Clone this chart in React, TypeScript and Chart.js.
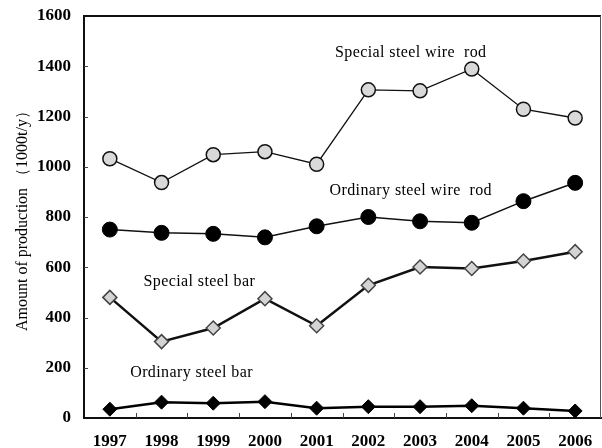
import React, { useEffect, useRef } from "react";
import { Chart, registerables } from "chart.js";

Chart.register(...registerables);

const years = ["1997", "1998", "1999", "2000", "2001", "2002", "2003", "2004", "2005", "2006"];
const specialWireRod = [1032, 937, 1048, 1060, 1010, 1306, 1302, 1389, 1229, 1194];
const ordinaryWireRod = [750, 737, 733, 719, 763, 800, 783, 777, 863, 936];
const specialBar = [480, 304, 358, 475, 367, 528, 601, 595, 625, 662];
const ordinaryBar = [35, 63, 59, 65, 39, 45, 45, 49, 39, 28];

const yTitle = "Amount of production （1000t/y）";
const labelTexts = ["Special steel wire  rod", "Ordinary steel wire  rod", "Special steel bar", "Ordinary steel bar"];
const labelX = [5.82, 5.82, 1.73, 1.58];
const labelY = [1453, 903, 541, 179];

const serif = "'Liberation Serif', 'Times New Roman', serif";

const framePlugin = {
  id: "frame",
  afterDraw(chart: any) {
    const { ctx, chartArea, scales } = chart;
    const x = scales.x;
    const y = scales.y;
    ctx.save();
    ctx.strokeStyle = "#111";
    ctx.lineWidth = 2;
    ctx.beginPath();
    ctx.moveTo(chartArea.left, chartArea.top);
    ctx.lineTo(chartArea.right, chartArea.top);
    ctx.stroke();
    ctx.strokeStyle = "#555";
    ctx.lineWidth = 1;
    ctx.beginPath();
    ctx.moveTo(chartArea.right - 0.5, chartArea.top);
    ctx.lineTo(chartArea.right - 0.5, chartArea.bottom);
    ctx.stroke();
    ctx.strokeStyle = "#444";
    ctx.lineWidth = 1;
    for (let i = 0; i < years.length - 1; i++) {
      const px = Math.round((x.getPixelForValue(i) + x.getPixelForValue(i + 1)) / 2) + 0.5;
      ctx.beginPath();
      ctx.moveTo(px, chartArea.bottom);
      ctx.lineTo(px, chartArea.bottom - 5);
      ctx.stroke();
    }
    for (let v = 200; v < 1600; v += 200) {
      const py = Math.round(y.getPixelForValue(v)) + 0.5;
      ctx.beginPath();
      ctx.moveTo(chartArea.left, py);
      ctx.lineTo(chartArea.left + 4, py);
      ctx.stroke();
    }
    ctx.fillStyle = "#000";
    ctx.font = `16px ${serif}`;
    try {
      (ctx as any).letterSpacing = "0.4px";
    } catch (e) {}
    ctx.textAlign = "center";
    ctx.textBaseline = "middle";
    for (let i = 0; i < labelTexts.length; i++) {
      ctx.fillText(labelTexts[i], x.getPixelForValue(labelX[i]), y.getPixelForValue(labelY[i]));
    }
    ctx.restore();
  },
};

export default function App() {
  const ref = useRef<HTMLCanvasElement | null>(null);
  useEffect(() => {
    document.body.style.margin = "0";
    const chart = new Chart(ref.current as HTMLCanvasElement, {
      type: "line",
      data: {
        labels: years,
        datasets: [
          {
            label: "Special steel wire rod",
            data: specialWireRod,
            borderColor: "#111",
            borderWidth: 1.3,
            pointStyle: "circle",
            pointRadius: 7,
            pointBackgroundColor: "#d9d9d9",
            pointBorderColor: "#111",
            pointBorderWidth: 1.5,
          },
          {
            label: "Ordinary steel wire rod",
            data: ordinaryWireRod,
            borderColor: "#111",
            borderWidth: 1.5,
            pointStyle: "circle",
            pointRadius: 7.5,
            pointBackgroundColor: "#000",
            pointBorderColor: "#000",
            pointBorderWidth: 1,
          },
          {
            label: "Special steel bar",
            data: specialBar,
            borderColor: "#111",
            borderWidth: 2.5,
            pointStyle: "rectRot",
            pointRadius: 7,
            pointBackgroundColor: "#d4d4d4",
            pointBorderColor: "#444",
            pointBorderWidth: 1.5,
          },
          {
            label: "Ordinary steel bar",
            data: ordinaryBar,
            borderColor: "#000",
            borderWidth: 2.5,
            pointStyle: "rectRot",
            pointRadius: 7,
            pointBackgroundColor: "#000",
            pointBorderColor: "#000",
            pointBorderWidth: 1,
          },
        ],
      },
      options: {
        animation: false,
        responsive: false,
        devicePixelRatio: 1,
        layout: { autoPadding: false, padding: { top: 16, right: 1, left: 0, bottom: 0 } },
        plugins: { legend: { display: false }, tooltip: { enabled: false } },
        scales: {
          x: {
            offset: true,
            grid: { display: false, drawTicks: false },
            border: { display: true, color: "#111", width: 2 },
            ticks: { color: "#000", font: { family: serif, size: 17, weight: "bold" }, padding: 13 },
            afterFit(scale: any) {
              scale.height = 30;
              scale.paddingLeft = 0;
              scale.paddingRight = 0;
            },
          },
          y: {
            min: 0,
            max: 1600,
            grid: { display: false, drawTicks: false },
            border: { display: true, color: "#111", width: 2 },
            ticks: {
              stepSize: 200,
              color: "#000",
              font: { family: serif, size: 17, weight: "bold" },
              padding: 13,
              callback: (v: any) => String(v),
            },
            title: { display: true, text: yTitle, color: "#000", font: { family: serif, size: 16 }, padding: { top: 13, bottom: 0 } },
            afterFit(scale: any) {
              scale.width = 84;
              scale.paddingTop = 0;
              scale.paddingBottom = 0;
            },
          },
        },
      },
      plugins: [framePlugin],
    } as any);
    return () => chart.destroy();
  }, []);
  return (
    <div style={{ position: "fixed", left: 0, top: 0, width: 602, height: 448, background: "#fff" }}>
      <canvas ref={ref} width={602} height={448} />
    </div>
  );
}
